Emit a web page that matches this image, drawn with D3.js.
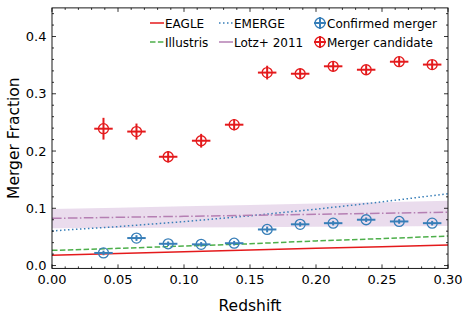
<!DOCTYPE html>
<html>
<head>
<meta charset="utf-8">
<script src="https://cdn.jsdelivr.net/npm/d3@7"></script>
<style>
  body { margin: 0; background: #fff; }
  text { font-family: "DejaVu Sans", sans-serif; fill: #000; }
</style>
</head>
<body>
<div id="chart"></div>
<script>
// ---- data ----
const zBins = [0.039, 0.064, 0.088, 0.113, 0.138, 0.163, 0.188, 0.213, 0.238, 0.263, 0.288];
const candidate = [0.239, 0.234, 0.190, 0.218, 0.246, 0.337, 0.335, 0.348, 0.342, 0.356, 0.351];
const candidateErr = [0.019, 0.014, 0.010, 0.012, 0.010, 0.012, 0.009, 0.009, 0.008, 0.009, 0.008];
const confirmed = [0.022, 0.048, 0.038, 0.037, 0.039, 0.063, 0.072, 0.074, 0.080, 0.077, 0.074];
const confirmedErr = [0.004, 0.005, 0.004, 0.004, 0.004, 0.005, 0.004, 0.004, 0.004, 0.004, 0.004];
const zErr = 0.007;

const zModel = [0, 0.05, 0.10, 0.15, 0.20, 0.25, 0.30];
const eagle = [0.018, 0.021, 0.024, 0.027, 0.030, 0.033, 0.036];
const illustris = [0.0265, 0.030, 0.034, 0.038, 0.043, 0.047, 0.0515];
const emerge = [0.0605, 0.068, 0.0767, 0.0869, 0.0984, 0.1112, 0.1255];
const lotz = [0.0824, 0.0842, 0.086, 0.0877, 0.0895, 0.0912, 0.093];
const lotzLo = [0.065, 0.0657, 0.0663, 0.067, 0.0677, 0.0683, 0.069];
const lotzHi = [0.0987, 0.101, 0.1034, 0.1058, 0.1082, 0.1106, 0.113];

const xTicks = [0, 0.05, 0.10, 0.15, 0.20, 0.25, 0.30];
const yTicks = [0, 0.1, 0.2, 0.3, 0.4];

const colRed = "#e41a1c", colBlue = "#377eb8", colGreen = "#4daf4a", colPurple = "#b57fb3";

const W = 470, H = 314;
const L = 52, R = 448, T = 7.9, B = 268.4;

const svg = d3.select("#chart").append("svg").attr("width", W).attr("height", H);

const x = d3.scaleLinear().domain([0, 0.3]).range([L, R]);
const y = d3.scaleLinear().domain([-0.005, 0.45]).range([B, T]);

const line = (vals) => d3.line().x((d, i) => x(zModel[i])).y(d => y(d))(vals);

const plot = svg.append("g");

// Lotz band
plot.append("path")
  .attr("d", d3.area().x((d, i) => x(zModel[i])).y0((d, i) => y(lotzLo[i])).y1(d => y(d))(lotzHi))
  .attr("fill", "rgba(152,78,163,0.2)");

plot.append("path").attr("d", line(eagle)).attr("fill", "none")
  .attr("stroke", colRed).attr("stroke-width", 1.5);
plot.append("path").attr("d", line(illustris)).attr("fill", "none")
  .attr("stroke", colGreen).attr("stroke-width", 1.5).attr("stroke-dasharray", "5.5,2.4");
plot.append("path").attr("d", line(emerge)).attr("fill", "none")
  .attr("stroke", colBlue).attr("stroke-width", 1.5).attr("stroke-dasharray", "1.5,2.5");
plot.append("path").attr("d", line(lotz)).attr("fill", "none")
  .attr("stroke", colPurple).attr("stroke-width", 1.5).attr("stroke-dasharray", "9.6,2.4,1.5,2.4");

// error bar points
function points(vals, errs, color) {
  const g = plot.append("g");
  vals.forEach((v, i) => {
    const cx = x(zBins[i]), cy = y(v);
    g.append("line").attr("x1", x(zBins[i] - zErr)).attr("x2", x(zBins[i] + zErr))
      .attr("y1", cy).attr("y2", cy).attr("stroke", color).attr("stroke-width", 2);
    g.append("line").attr("x1", cx).attr("x2", cx)
      .attr("y1", y(v - errs[i])).attr("y2", y(v + errs[i])).attr("stroke", color).attr("stroke-width", 2);
    g.append("circle").attr("cx", cx).attr("cy", cy).attr("r", 5)
      .attr("fill", "none").attr("stroke", color).attr("stroke-width", 1.3);
  });
}
points(confirmed, confirmedErr, colBlue);
points(candidate, candidateErr, colRed);

// frame + ticks (inward, all sides)
const ax = svg.append("g");
ax.append("rect").attr("x", L).attr("y", T).attr("width", R - L).attr("height", B - T)
  .attr("fill", "none").attr("stroke", "#000").attr("stroke-width", 0.9);

const xMinor = d3.range(0, 0.3001, 0.01);
const yMinor = d3.range(0, 0.4501, 0.02);
xMinor.forEach(v => {
  const major = xTicks.some(t => Math.abs(t - v) < 1e-6);
  const len = major ? 4 : 2;
  ax.append("line").attr("x1", x(v)).attr("x2", x(v)).attr("y1", B).attr("y2", B - len).attr("stroke", "#000").attr("stroke-width", 0.8);
  ax.append("line").attr("x1", x(v)).attr("x2", x(v)).attr("y1", T).attr("y2", T + len).attr("stroke", "#000").attr("stroke-width", 0.8);
});
yMinor.forEach(v => {
  const major = yTicks.some(t => Math.abs(t - v) < 1e-6);
  const len = major ? 4 : 2;
  ax.append("line").attr("x1", L).attr("x2", L + len).attr("y1", y(v)).attr("y2", y(v)).attr("stroke", "#000").attr("stroke-width", 0.8);
  ax.append("line").attr("x1", R).attr("x2", R - len).attr("y1", y(v)).attr("y2", y(v)).attr("stroke", "#000").attr("stroke-width", 0.8);
});

ax.selectAll(".xl").data(xTicks).enter().append("text")
  .attr("x", d => x(d)).attr("y", 283.5).attr("text-anchor", "middle")
  .attr("font-size", 13).text(d => d.toFixed(2));
ax.selectAll(".yl").data(yTicks).enter().append("text")
  .attr("x", 46.5).attr("y", d => y(d) + 4.7).attr("text-anchor", "end")
  .attr("font-size", 13).text(d => d.toFixed(1));

svg.append("text").attr("x", (L + R) / 2).attr("y", 310.5).attr("text-anchor", "middle")
  .attr("font-size", 15.5).text("Redshift");
svg.append("text").attr("transform", `translate(18.5,${(T + B) / 2}) rotate(-90)`)
  .attr("text-anchor", "middle").attr("font-size", 15.5).text("Merger Fraction");

// legend
const leg = svg.append("g").attr("font-size", 12);
const legLines = [
  { label: "EAGLE", color: colRed, dash: null, x: 150, y: 23 },
  { label: "Illustris", color: colGreen, dash: "5.5,2.4", x: 150, y: 42 },
  { label: "EMERGE", color: colBlue, dash: "1.5,2.5", x: 219, y: 23 },
  { label: "Lotz+ 2011", color: colPurple, dash: null, x: 219, y: 42 }
];
legLines.forEach(d => {
  leg.append("line").attr("x1", d.x).attr("x2", d.x + 14).attr("y1", d.y).attr("y2", d.y)
    .attr("stroke", d.color).attr("stroke-width", 1.5).attr("stroke-dasharray", d.dash);
  leg.append("text").attr("x", d.x + 15).attr("y", d.y + 4.5).text(d.label);
});
const legPts = [
  { label: "Confirmed merger", color: colBlue, y: 23 },
  { label: "Merger candidate", color: colRed, y: 42 }
];
legPts.forEach(d => {
  const cx = 320;
  leg.append("line").attr("x1", cx - 6).attr("x2", cx + 6).attr("y1", d.y).attr("y2", d.y).attr("stroke", d.color).attr("stroke-width", 2);
  leg.append("line").attr("x1", cx).attr("x2", cx).attr("y1", d.y - 6).attr("y2", d.y + 6).attr("stroke", d.color).attr("stroke-width", 2);
  leg.append("circle").attr("cx", cx).attr("cy", d.y).attr("r", 5).attr("fill", "none").attr("stroke", d.color).attr("stroke-width", 1.3);
  leg.append("text").attr("x", 327).attr("y", d.y + 4.5).text(d.label);
});
</script>
</body>
</html>
